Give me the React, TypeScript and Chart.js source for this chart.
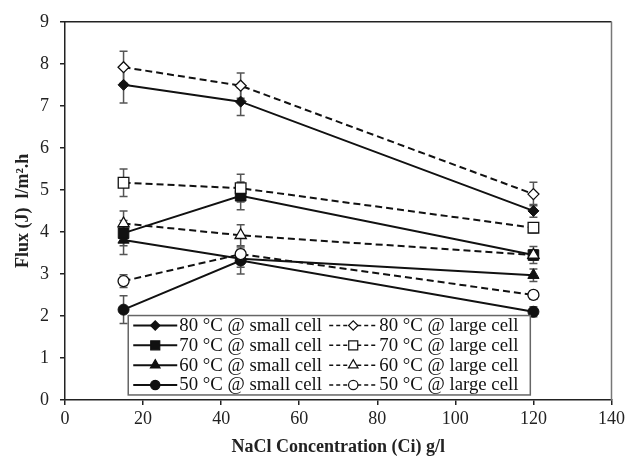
import React, { useEffect, useRef } from "react";
import { Chart, registerables } from "chart.js";

Chart.register(...registerables);

const concentrations = [15, 45, 120];

const small80 = [7.5, 7.1, 4.5];
const small80Err = [0.43, 0.33, 0.15];
const small70 = [3.97, 4.86, 3.45];
const small70Err = [0.3, 0.33, 0.12];
const small60 = [3.81, 3.36, 2.97];
const small60Err = [0.35, 0.2, 0.15];
const small50 = [2.15, 3.32, 2.1];
const small50Err = [0.33, 0.32, 0.12];

const large80 = [7.92, 7.48, 4.9];
const large80Err = [0.38, 0.3, 0.28];
const large70 = [5.17, 5.04, 4.1];
const large70Err = [0.33, 0.33, 0.12];
const large60 = [4.2, 3.92, 3.45];
const large60Err = [0.3, 0.25, 0.2];
const large50 = [2.83, 3.47, 2.5];
const large50Err = [0.15, 0.12, 0.1];

const seriesNames = [
  "80 °C @ small cell",
  "70 °C @ small cell",
  "60 °C @ small cell",
  "50 °C @ small cell",
  "80 °C @ large cell",
  "70 °C @ large cell",
  "60 °C @ large cell",
  "50 °C @ large cell",
];

const xTicks = [0, 20, 40, 60, 80, 100, 120, 140];
const yTicks = [0, 1, 2, 3, 4, 5, 6, 7, 8, 9];

const FONT = "'Liberation Serif', 'Times New Roman', serif";

const shapes = ["rectRot", "rect", "triangle", "circle"];
const radii = [5.5, 7.5, 6.5, 5.5];

function makeDataset(i: number, values: number[], errs: number[], large: boolean) {
  const k = i % 4;
  return {
    label: seriesNames[i],
    data: concentrations.map((x, j) => ({ x, y: values[j] })),
    errors: errs,
    borderColor: "#111",
    borderWidth: 2,
    borderDash: large ? [7, 4] : [],
    pointStyle: shapes[k],
    pointRadius: radii[k],
    pointBackgroundColor: large ? "#fff" : "#111",
    pointBorderColor: "#111",
    pointBorderWidth: large ? 1.3 : 1,
    showLine: true,
    tension: 0,
    order: large ? 1 : 2,
  };
}

const errorBarPlugin = {
  id: "errorBars",
  beforeDatasetsDraw(chart: any) {
    const { ctx, scales } = chart;
    const ys = scales.y;
    ctx.save();
    ctx.strokeStyle = "#555";
    ctx.lineWidth = 1.5;
    chart.data.datasets.forEach((ds: any) => {
      ds.data.forEach((p: any, j: number) => {
        const e = ds.errors[j];
        const px = scales.x.getPixelForValue(p.x);
        const top = ys.getPixelForValue(p.y + e);
        const bot = ys.getPixelForValue(p.y - e);
        ctx.beginPath();
        ctx.moveTo(px, top);
        ctx.lineTo(px, bot);
        ctx.moveTo(px - 4, top);
        ctx.lineTo(px + 4, top);
        ctx.moveTo(px - 4, bot);
        ctx.lineTo(px + 4, bot);
        ctx.stroke();
      });
    });
    ctx.restore();
  },
};

const framePlugin = {
  id: "frame",
  afterDraw(chart: any) {
    const { ctx, chartArea } = chart;
    ctx.save();
    ctx.lineWidth = 1.5;
    ctx.strokeStyle = "#222";
    ctx.beginPath();
    ctx.moveTo(chartArea.left, chartArea.top);
    ctx.lineTo(chartArea.right, chartArea.top);
    ctx.stroke();
    ctx.strokeStyle = "#777";
    ctx.beginPath();
    ctx.moveTo(chartArea.right, chartArea.top);
    ctx.lineTo(chartArea.right, chartArea.bottom);
    ctx.stroke();
    ctx.restore();
  },
};

function drawPointShape(ctx: CanvasRenderingContext2D, style: string, x: number, y: number, r: number) {
  ctx.beginPath();
  if (style === "rectRot") {
    ctx.moveTo(x - r, y);
    ctx.lineTo(x, y - r);
    ctx.lineTo(x + r, y);
    ctx.lineTo(x, y + r);
    ctx.closePath();
  } else if (style === "rect") {
    const s = Math.SQRT1_2 * r;
    ctx.rect(x - s, y - s, 2 * s, 2 * s);
  } else if (style === "triangle") {
    ctx.moveTo(x, y - r);
    ctx.lineTo(x + r * Math.sin(Math.PI / 3), y + r * 0.5);
    ctx.lineTo(x - r * Math.sin(Math.PI / 3), y + r * 0.5);
    ctx.closePath();
  } else {
    ctx.arc(x, y, r, 0, Math.PI * 2);
  }
  ctx.fill();
  ctx.stroke();
}

const legendPlugin = {
  id: "boxLegend",
  afterDraw(chart: any) {
    const { ctx, scales } = chart;
    const xs = scales.x;
    const ys = scales.y;
    const left = xs.getPixelForValue(16.2);
    const right = xs.getPixelForValue(119.2);
    const top = ys.getPixelForValue(2.01);
    const bottom = ys.getPixelForValue(0.12);
    ctx.save();
    ctx.fillStyle = "#fff";
    ctx.fillRect(left, top, right - left, bottom - top);
    ctx.strokeStyle = "#666";
    ctx.lineWidth = 1.5;
    ctx.strokeRect(left, top, right - left, bottom - top);
    const rowH = (bottom - top) / 4;
    ctx.font = `18.8px ${FONT}`;
    ctx.textBaseline = "middle";
    ctx.fillStyle = "#111";
    chart.data.datasets.forEach((ds: any, i: number) => {
      const col = i < 4 ? 0 : 1;
      const row = i % 4;
      const cy = top + rowH * (row + 0.5);
      const x0 = left + 5 + col * 196;
      const len = col === 0 ? 44 : 48;
      const x1 = x0 + len;
      ctx.save();
      ctx.strokeStyle = "#111";
      ctx.lineWidth = col === 0 ? 2 : 1.5;
      ctx.setLineDash(col === 0 ? [] : [4, 3]);
      ctx.beginPath();
      ctx.moveTo(x0, cy);
      ctx.lineTo(x1, cy);
      ctx.stroke();
      ctx.setLineDash([]);
      ctx.fillStyle = col === 0 ? "#111" : "#fff";
      ctx.lineWidth = 1.2;
      drawPointShape(ctx, ds.pointStyle, (x0 + x1) / 2, cy, ds.pointRadius * 0.85);
      ctx.restore();
      ctx.fillText(seriesNames[i], x1 + 2, cy + 0.5);
    });
    ctx.restore();
  },
};

export default function App() {
  const ref = useRef<HTMLCanvasElement | null>(null);

  useEffect(() => {
    if (!ref.current) return;
    const datasets = [
      makeDataset(0, small80, small80Err, false),
      makeDataset(1, small70, small70Err, false),
      makeDataset(2, small60, small60Err, false),
      makeDataset(3, small50, small50Err, false),
      makeDataset(4, large80, large80Err, true),
      makeDataset(5, large70, large70Err, true),
      makeDataset(6, large60, large60Err, true),
      makeDataset(7, large50, large50Err, true),
    ];
    const chart = new Chart(ref.current, {
      type: "scatter",
      data: { datasets } as any,
      options: {
        animation: false,
        responsive: false,
        maintainAspectRatio: false,
        layout: { padding: { left: 0, right: 15, top: 15, bottom: 0 } },
        plugins: {
          legend: { display: false },
          tooltip: { enabled: false },
        },
        scales: {
          x: {
            type: "linear",
            min: 0,
            max: 140,
            afterBuildTicks: (s: any) => {
              s.ticks = xTicks.map((v) => ({ value: v }));
            },
            afterFit: (s: any) => {
              s.height = 61;
            },
            ticks: {
              color: "#222",
              font: { family: FONT, size: 18 },
              padding: 3,
              maxRotation: 0,
            },
            grid: {
              drawOnChartArea: false,
              drawTicks: true,
              tickLength: 5,
              color: "#222",
              lineWidth: 1.5,
            },
            border: { display: true, color: "#222", width: 1.5 },
            title: {
              display: true,
              text: "NaCl Concentration (Ci) g/l",
              color: "#222",
              font: { family: FONT, size: 18, weight: "bold" },
              padding: { top: 0, bottom: 3 },
            },
          },
          y: {
            type: "linear",
            min: 0,
            max: 9,
            afterBuildTicks: (s: any) => {
              s.ticks = yTicks.map((v) => ({ value: v }));
            },
            afterFit: (s: any) => {
              s.width = 65;
            },
            ticks: {
              color: "#222",
              font: { family: FONT, size: 18 },
              padding: 11,
            },
            grid: {
              drawOnChartArea: false,
              drawTicks: true,
              tickLength: 5,
              color: "#222",
              lineWidth: 1.5,
            },
            border: { display: true, color: "#222", width: 1.5 },
            title: {
              display: true,
              text: "Flux (J)  l/m².h",
              color: "#222",
              font: { family: FONT, size: 18, weight: "bold" },
              padding: { top: 13, bottom: 0 },
            },
          },
        },
      },
      plugins: [errorBarPlugin, framePlugin, legendPlugin],
    } as any);
    return () => chart.destroy();
  }, []);

  return (
    <div style={{ position: "fixed", left: 0, top: 0, width: 628, height: 461, background: "#fff" }}>
      <canvas ref={ref} width={628} height={461} style={{ display: "block", width: 628, height: 461 }} />
    </div>
  );
}
